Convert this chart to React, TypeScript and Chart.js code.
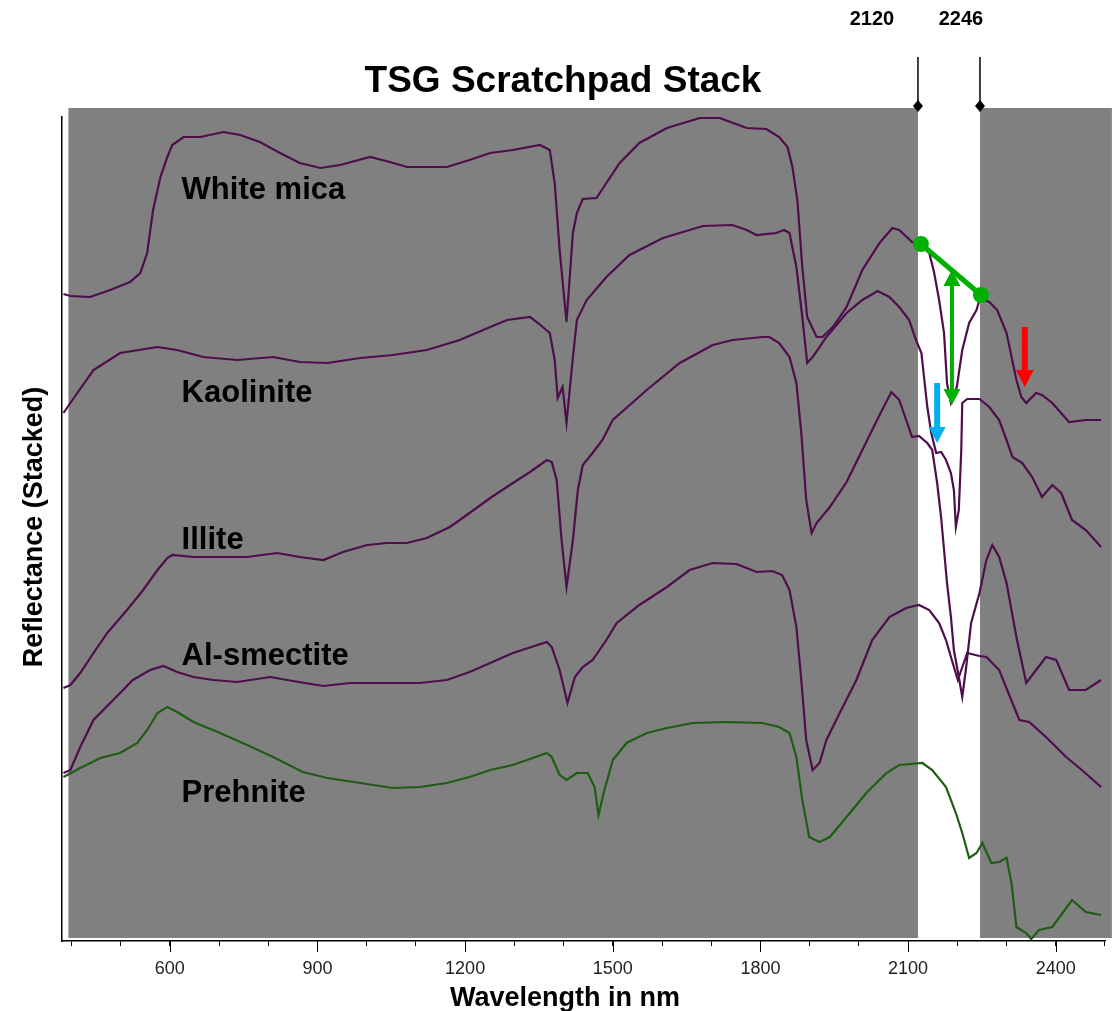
import React, { useEffect, useRef } from 'react';
import { Chart, registerables } from 'chart.js';

Chart.register(...registerables);

const FONT = 'Arial, "Liberation Sans", sans-serif';
const PURPLE = '#4e0d4c';
const GREEN = '#1f5c14';

// Wavelength (nm) and stacked reflectance (offset units) for each spectrum
const whiteMicaNm = [384, 398, 438, 479, 519, 540, 554, 566, 581, 595, 605, 628, 662, 709, 743, 783, 824, 864, 906, 946, 1007, 1047, 1082, 1163, 1209, 1251, 1297, 1352, 1372, 1382, 1392, 1406, 1419, 1427, 1439, 1467, 1487, 1514, 1554, 1610, 1677, 1717, 1772, 1812, 1838, 1855, 1865, 1875, 1885, 1895, 1914, 1926, 1947, 1975, 2007, 2042, 2068, 2082, 2108, 2120, 2143, 2153, 2163, 2173, 2179, 2187, 2199, 2210, 2224, 2239, 2246, 2265, 2281, 2300, 2320, 2330, 2340, 2360, 2372, 2393, 2427, 2461, 2492];
const whiteMicaR = [644, 642, 641, 648, 656, 665, 685, 728, 761, 781, 793, 801, 801, 806, 803, 796, 785, 775, 770, 773, 781, 776, 771, 771, 778, 785, 788, 793, 788, 755, 688, 616, 705, 725, 739, 740, 755, 775, 795, 810, 820, 820, 810, 809, 801, 791, 771, 738, 671, 621, 601, 601, 611, 631, 668, 695, 710, 708, 696, 694, 685, 665, 638, 605, 555, 535, 551, 588, 615, 628, 640, 636, 628, 605, 558, 541, 535, 545, 543, 535, 516, 518, 518];

const kaoliniteNm = [384, 412, 445, 499, 575, 615, 668, 737, 810, 864, 920, 987, 1053, 1122, 1189, 1251, 1285, 1332, 1348, 1372, 1382, 1388, 1398, 1406, 1417, 1427, 1447, 1487, 1534, 1602, 1683, 1743, 1772, 1792, 1832, 1848, 1859, 1873, 1885, 1895, 1906, 1934, 1975, 2007, 2038, 2062, 2082, 2102, 2116, 2127, 2133, 2139, 2147, 2153, 2157, 2167, 2177, 2187, 2193, 2197, 2203, 2208, 2210, 2220, 2245, 2265, 2285, 2300, 2312, 2332, 2352, 2372, 2393, 2411, 2433, 2461, 2492];
const kaoliniteR = [525, 545, 568, 585, 591, 588, 581, 578, 581, 576, 575, 580, 583, 588, 598, 611, 618, 621, 615, 605, 578, 540, 551, 515, 571, 618, 638, 661, 683, 700, 712, 713, 708, 703, 705, 708, 705, 671, 621, 575, 581, 601, 625, 638, 647, 641, 631, 618, 598, 585, 558, 531, 505, 493, 485, 486, 478, 465, 448, 411, 428, 488, 535, 539, 539, 531, 518, 498, 481, 475, 461, 441, 453, 445, 418, 408, 391];

const illiteNm = [384, 398, 418, 445, 473, 513, 546, 575, 595, 605, 648, 717, 757, 818, 864, 912, 952, 1001, 1041, 1082, 1122, 1169, 1209, 1251, 1297, 1332, 1366, 1376, 1386, 1396, 1406, 1419, 1429, 1439, 1459, 1479, 1500, 1569, 1636, 1703, 1743, 1804, 1818, 1838, 1859, 1873, 1883, 1893, 1904, 1914, 1941, 1975, 2007, 2042, 2066, 2082, 2096, 2108, 2122, 2139, 2149, 2159, 2167, 2173, 2179, 2187, 2193, 2203, 2210, 2218, 2228, 2245, 2259, 2271, 2285, 2300, 2320, 2340, 2360, 2380, 2401, 2427, 2461, 2492];
const illiteR = [250, 253, 265, 285, 305, 328, 348, 368, 380, 383, 381, 381, 381, 385, 381, 378, 386, 393, 395, 395, 400, 411, 425, 440, 455, 466, 478, 476, 458, 398, 351, 398, 448, 473, 485, 498, 518, 548, 575, 593, 598, 601, 601, 595, 581, 555, 505, 438, 405, 415, 431, 456, 488, 523, 546, 538, 518, 501, 502, 495, 488, 455, 421, 388, 355, 321, 288, 261, 241, 271, 315, 345, 378, 393, 381, 355, 301, 255, 268, 281, 278, 248, 248, 258];

const alSmectiteNm = [384, 398, 418, 445, 485, 525, 560, 587, 615, 648, 688, 737, 804, 850, 912, 966, 1053, 1108, 1163, 1209, 1251, 1297, 1366, 1376, 1392, 1408, 1423, 1439, 1459, 1487, 1508, 1554, 1610, 1656, 1703, 1751, 1772, 1792, 1824, 1844, 1859, 1873, 1883, 1893, 1906, 1920, 1934, 1961, 1995, 2027, 2062, 2096, 2122, 2143, 2163, 2177, 2187, 2201, 2220, 2245, 2259, 2285, 2312, 2326, 2346, 2380, 2421, 2453, 2492];
const alSmectiteR = [165, 168, 191, 218, 238, 258, 268, 272, 266, 261, 258, 256, 261, 257, 252, 255, 255, 255, 258, 266, 275, 285, 296, 291, 268, 235, 261, 271, 278, 298, 315, 333, 351, 368, 375, 374, 370, 366, 367, 363, 348, 311, 258, 198, 168, 175, 198, 225, 258, 298, 321, 330, 333, 328, 315, 298, 281, 258, 285, 282, 281, 268, 235, 218, 216, 201, 181, 168, 151];

const prehniteNm = [384, 418, 459, 499, 534, 554, 575, 595, 615, 648, 702, 757, 810, 870, 920, 987, 1053, 1108, 1163, 1209, 1251, 1297, 1366, 1376, 1392, 1406, 1427, 1449, 1463, 1471, 1483, 1500, 1528, 1569, 1610, 1662, 1731, 1804, 1838, 1859, 1873, 1885, 1899, 1920, 1941, 1975, 2015, 2056, 2082, 2129, 2149, 2177, 2197, 2210, 2224, 2239, 2251, 2269, 2285, 2300, 2310, 2320, 2340, 2350, 2366, 2393, 2433, 2461, 2492];
const prehniteR = [161, 170, 180, 185, 195, 208, 225, 231, 226, 216, 205, 193, 181, 166, 160, 155, 150, 151, 155, 161, 168, 173, 185, 181, 163, 158, 165, 165, 151, 123, 148, 178, 195, 205, 210, 215, 216, 215, 211, 205, 181, 138, 101, 96, 101, 121, 145, 165, 173, 175, 168, 151, 125, 105, 80, 85, 95, 75, 76, 80, 55, 11, 5, -1, 8, 11, 38, 26, 23];

// Mineral names and where their captions sit (wavelength, reflectance at baseline)
const mineralNames = ['White mica', 'Kaolinite', 'Illite', 'Al-smectite', 'Prehnite'];
const captionNm = [624, 624, 624, 624, 624];
const captionR = [739, 536, 389, 273, 136];

// Axis ticks
const minorTicks = [400, 500, 600, 700, 800, 900, 1000, 1100, 1200, 1300, 1400, 1500, 1600, 1700, 1800, 1900, 2000, 2100, 2200, 2300, 2400, 2500];
const labelledTicks = [600, 900, 1200, 1500, 1800, 2100, 2400];

// Highlighted window around the Al-OH feature
const bandEdges = [2120, 2246];

// Feature-depth markers on the spectra
const hullNm = [2126, 2248];
const hullR = [694, 643];
const depthArrowNm = 2189;
const depthArrowR = [668, 533];
const blueArrowNm = 2159;
const blueArrowR = [555, 495];
const redArrowNm = 2337;
const redArrowR = [611, 551];

const toPoints = (xs: number[], ys: number[]) => xs.map((x, i) => ({ x, y: ys[i] }));

function drawArrow(ctx: CanvasRenderingContext2D, x: number, yFrom: number, yTo: number, color: string, shaft: number, headW: number, headL: number, both: boolean) {
  const dir = Math.sign(yTo - yFrom);
  ctx.fillStyle = color;
  const s0 = both ? yFrom + dir * headL : yFrom;
  const s1 = yTo - dir * headL;
  ctx.fillRect(x - shaft / 2, Math.min(s0, s1), shaft, Math.abs(s1 - s0) + 1);
  const head = (tip: number, d: number) => {
    ctx.beginPath();
    ctx.moveTo(x, tip);
    ctx.lineTo(x - headW / 2, tip - d * headL);
    ctx.lineTo(x + headW / 2, tip - d * headL);
    ctx.closePath();
    ctx.fill();
  };
  head(yTo, dir);
  if (both) head(yFrom, -dir);
}

const decorPlugin = {
  id: 'scratchpadDecor',
  beforeDraw(chart: any) {
    const { ctx, scales } = chart;
    const x = scales.x;
    const y = scales.y;
    const left = x.getPixelForValue(394);
    const right = x.getPixelForValue(2514);
    const top = y.getPixelForValue(830);
    const bottom = y.getPixelForValue(0);
    ctx.save();
    ctx.fillStyle = '#808080';
    ctx.fillRect(left, top, right - left, bottom - top);
    const b0 = x.getPixelForValue(bandEdges[0]);
    const b1 = x.getPixelForValue(bandEdges[1]);
    ctx.fillStyle = '#ffffff';
    ctx.fillRect(b0, top, b1 - b0, bottom - top);
    ctx.restore();
  },
  afterDraw(chart: any) {
    const { ctx, scales, chartArea } = chart;
    const x = scales.x;
    const y = scales.y;
    ctx.save();

    // longer marks for the labelled ticks
    ctx.strokeStyle = '#000';
    ctx.lineWidth = 1;
    labelledTicks.forEach((v) => {
      const px = Math.round(x.getPixelForValue(v)) + 0.5;
      ctx.beginPath();
      ctx.moveTo(px, chartArea.bottom);
      ctx.lineTo(px, chartArea.bottom + 11);
      ctx.stroke();
    });

    // mineral captions
    ctx.fillStyle = '#000';
    ctx.font = `bold 31px ${FONT}`;
    ctx.textAlign = 'left';
    ctx.textBaseline = 'alphabetic';
    mineralNames.forEach((name, i) => {
      ctx.fillText(name, x.getPixelForValue(captionNm[i]), y.getPixelForValue(captionR[i]));
    });

    // band edge markers
    const top = y.getPixelForValue(830);
    ctx.lineWidth = 1.5;
    ctx.font = `bold 20px ${FONT}`;
    ctx.textAlign = 'center';
    ctx.textBaseline = 'middle';
    const labelShift = [-46, -19];
    bandEdges.forEach((edge, i) => {
      const px = x.getPixelForValue(edge);
      ctx.beginPath();
      ctx.moveTo(px, top - 51);
      ctx.lineTo(px, top - 2);
      ctx.stroke();
      ctx.beginPath();
      ctx.moveTo(px, top - 8);
      ctx.lineTo(px + 5, top - 2);
      ctx.lineTo(px, top + 4);
      ctx.lineTo(px - 5, top - 2);
      ctx.closePath();
      ctx.fill();
      ctx.fillText(String(edge), px + labelShift[i], 19);
    });

    // hull line and its end points
    const hx = hullNm.map((v) => x.getPixelForValue(v));
    const hy = hullR.map((v) => y.getPixelForValue(v));
    ctx.strokeStyle = '#00b000';
    ctx.fillStyle = '#00b000';
    ctx.lineWidth = 5;
    ctx.beginPath();
    ctx.moveTo(hx[0], hy[0]);
    ctx.lineTo(hx[1], hy[1]);
    ctx.stroke();
    hx.forEach((px, i) => {
      ctx.beginPath();
      ctx.arc(px, hy[i], 8, 0, Math.PI * 2);
      ctx.fill();
    });

    // depth and feature arrows
    drawArrow(ctx, x.getPixelForValue(depthArrowNm), y.getPixelForValue(depthArrowR[0]), y.getPixelForValue(depthArrowR[1]), '#00b000', 4, 17, 16, true);
    drawArrow(ctx, x.getPixelForValue(blueArrowNm), y.getPixelForValue(blueArrowR[0]), y.getPixelForValue(blueArrowR[1]), '#00b0f0', 6, 17, 16, false);
    drawArrow(ctx, x.getPixelForValue(redArrowNm), y.getPixelForValue(redArrowR[0]), y.getPixelForValue(redArrowR[1]), '#ff0000', 6, 18, 17, false);

    // titles
    ctx.fillStyle = '#000';
    ctx.font = `bold 37px ${FONT}`;
    ctx.textAlign = 'center';
    ctx.textBaseline = 'alphabetic';
    ctx.fillText('TSG Scratchpad Stack', 563, 92);
    ctx.font = `bold 27px ${FONT}`;
    ctx.fillText('Wavelength in nm', 565, 1006);
    ctx.translate(35, 527);
    ctx.rotate(-Math.PI / 2);
    ctx.textBaseline = 'middle';
    ctx.fillText('Reflectance (Stacked)', 0, 0);
    ctx.restore();
  },
};

export default function App() {
  const canvasRef = useRef<HTMLCanvasElement | null>(null);

  useEffect(() => {
    const canvas = canvasRef.current;
    if (!canvas) return;
    const spectra = [
      { nm: whiteMicaNm, r: whiteMicaR, color: PURPLE },
      { nm: kaoliniteNm, r: kaoliniteR, color: PURPLE },
      { nm: illiteNm, r: illiteR, color: PURPLE },
      { nm: alSmectiteNm, r: alSmectiteR, color: PURPLE },
      { nm: prehniteNm, r: prehniteR, color: GREEN },
    ];
    const chart = new Chart(canvas, {
      type: 'line',
      data: {
        datasets: spectra.map((s, i) => ({
          label: mineralNames[i],
          data: toPoints(s.nm, s.r),
          borderColor: s.color,
          borderWidth: 2.2,
          pointRadius: 0,
          tension: 0,
          fill: false,
        })),
      },
      options: {
        animation: false,
        responsive: false,
        devicePixelRatio: 1,
        layout: { padding: { left: 62, right: 10, top: 117, bottom: 30 } },
        plugins: {
          legend: { display: false },
          tooltip: { enabled: false },
          title: { display: false },
        },
        scales: {
          x: {
            type: 'linear',
            min: 381,
            max: 2501,
            afterBuildTicks: (scale: any) => {
              scale.ticks = minorTicks.map((v) => ({ value: v }));
            },
            afterFit: (scale: any) => {
              scale.height = 40;
            },
            ticks: {
              autoSkip: false,
              maxRotation: 0,
              padding: 12,
              color: '#222',
              font: { family: FONT, size: 18 },
              callback: (v: any) => (labelledTicks.includes(Number(v)) ? String(v) : ''),
            },
            grid: { display: true, drawOnChartArea: false, drawTicks: true, tickLength: 5, color: '#000' },
            border: { display: true, color: '#000', width: 1.5 },
          },
          y: {
            type: 'linear',
            min: -3,
            max: 821,
            afterFit: (scale: any) => {
              scale.width = 0;
            },
            ticks: { display: false },
            grid: { display: false, drawTicks: false },
            border: { display: true, color: '#000', width: 1.5 },
          },
        },
      },
      plugins: [decorPlugin],
    } as any);
    return () => chart.destroy();
  }, []);

  return (
    <div style={{ position: 'absolute', left: 0, top: 0, width: 1117, height: 1011, background: '#fff' }}>
      <canvas ref={canvasRef} width={1117} height={1011} style={{ display: 'block' }} />
    </div>
  );
}
